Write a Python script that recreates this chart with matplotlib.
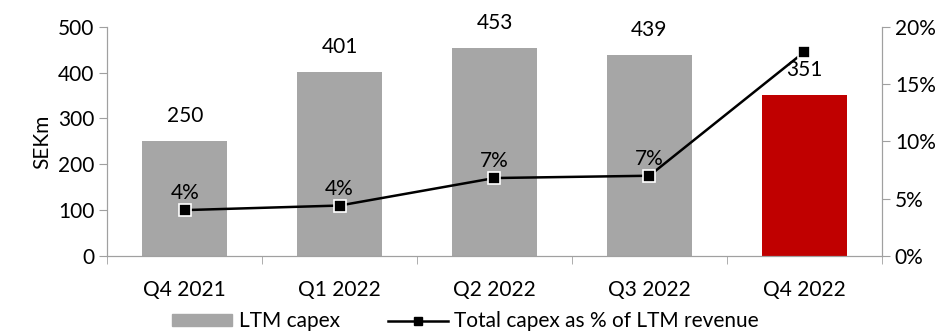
import numpy as np
import matplotlib.pyplot as plt
from matplotlib.lines import Line2D
from matplotlib.patches import Patch

plt.rcParams['font.family'] = ['Lato', 'DejaVu Sans']

# data
quarters = ['Q4 2021', 'Q1 2022', 'Q2 2022', 'Q3 2022', 'Q4 2022']
ltm_capex = [250, 401, 453, 439, 351]
capex_pct = [4.0, 4.4, 6.8, 7.0, 17.8]
pct_labels = ['4%', '4%', '7%', '7%', '']

grey = '#A6A6A6'
red = '#C00000'
axcol = '#A0A0A0'
fs = 15

fig = plt.figure(figsize=(9.5, 3.35), dpi=100)
ax = fig.add_axes([0.113, 0.236, 0.815, 0.684])
x = np.arange(len(quarters))
colors = [grey] * (len(quarters) - 1) + [red]
ax.bar(x, ltm_capex, width=0.55, color=colors, zorder=1)

for xi, v in zip(x, ltm_capex):
    ax.text(xi, v + 33, str(v), ha='center', va='bottom', fontsize=fs)

ax.set_xlim(-0.5, len(quarters) - 0.5)
ax.set_ylim(0, 500)
ax.set_yticks(range(0, 501, 100))
ax.set_ylabel('SEKm', fontsize=fs, labelpad=4)
ax.set_xticks(x)
ax.set_xticklabels(quarters)
ax.set_xticks(np.arange(-0.5, len(quarters), 1), minor=True)
ax.tick_params(axis='x', which='major', length=0, pad=17, labelsize=fs)
ax.tick_params(axis='x', which='minor', length=6, color=axcol, direction='out')
ax.tick_params(axis='y', length=6, color=axcol, labelsize=fs)
ax.spines['top'].set_visible(False)
for s in ['left', 'bottom', 'right']:
    ax.spines[s].set_color(axcol)

ax2 = ax.twinx()
ax2.plot(x, capex_pct, color='black', lw=1.8, marker='s', markersize=8,
         markerfacecolor='black', markeredgecolor='white', markeredgewidth=1.2, zorder=3)
for xi, v, lab in zip(x, capex_pct, pct_labels):
    if lab:
        ax2.text(xi, v + 0.6, lab, ha='center', va='bottom', fontsize=fs)
ax2.set_ylim(0, 20)
ax2.set_yticks(range(0, 21, 5))
ax2.set_yticklabels([f'{p}%' for p in range(0, 21, 5)])
ax2.tick_params(axis='y', length=6, color=axcol, labelsize=fs)
ax2.spines['top'].set_visible(False)
for s in ['left', 'bottom', 'right']:
    ax2.spines[s].set_color(axcol)

handles = [Patch(color=grey, label='LTM capex'),
           Line2D([], [], color='black', lw=1.8, marker='s', markersize=6,
                  label='Total capex as % of LTM revenue')]
fig.legend(handles=handles, loc='lower center', bbox_to_anchor=(0.49, -0.045), ncol=2,
           frameon=False, fontsize=fs, handlelength=2.9, handleheight=0.55,
           columnspacing=2.3, handletextpad=0.3)

plt.savefig('out.png')
